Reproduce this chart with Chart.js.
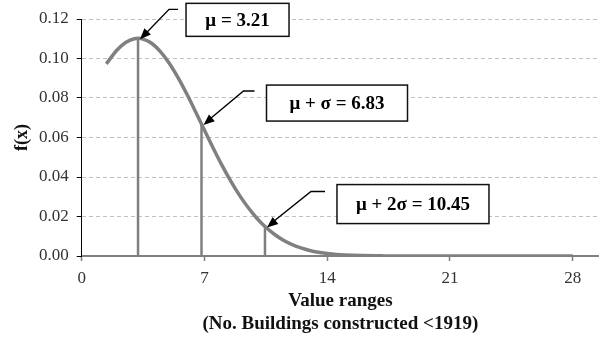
<!DOCTYPE html>
<html>
<head>
<meta charset="utf-8">
<script src="https://cdn.jsdelivr.net/npm/chart.js@4.4.1/dist/chart.umd.min.js"></script>
<style>
    html, body { margin: 0; padding: 0; background: #fff; }
    #wrap { width: 599px; height: 339px; position: relative; }
</style>
</head>
<body>
<div id="wrap"><canvas id="chart"></canvas></div>
<script>
// Density curve
const curveX = [1.4, 2, 2.5, 3, 3.21, 3.5, 4, 4.5, 5, 5.5, 6, 6.5, 6.83, 7, 7.5, 8, 8.5, 9, 9.5, 10, 10.45, 11, 11.5, 12, 12.5, 13, 13.5, 14, 14.5, 15, 16, 17, 18, 20, 22, 24, 26, 28];
const curveY = [0.0973, 0.1042, 0.1081, 0.1100, 0.1102, 0.1098, 0.1076, 0.1034, 0.0975, 0.0902, 0.0819, 0.0729, 0.0668, 0.0637, 0.0546, 0.0459, 0.0379, 0.0307, 0.0244, 0.0190, 0.0149, 0.0109, 0.0080, 0.0058, 0.0041, 0.0028, 0.0019, 0.0013, 0.0008, 0.0005, 0.0002, 0.0001, 0, 0, 0, 0, 0, 0];

// Reference lines (mu, mu + sigma, mu + 2 sigma)
const markX = [3.21, 6.83, 10.45];
const markY = [0.1102, 0.0668, 0.0149];
const markLabels = ['\u03bc = 3.21', '\u03bc + \u03c3 = 6.83', '\u03bc + 2\u03c3 = 10.45'];

const xTicks = [0, 7, 14, 21, 28];
const yTicks = [0, 0.02, 0.04, 0.06, 0.08, 0.10, 0.12];

const serif = "'Liberation Serif', 'Times New Roman', serif";
const gray = '#808080';

// callout geometry, offsets in px from arrow tip
const callouts = [
    { elbow: [29, -30], end: [38, -30], box: [46, -36, 103, 33] },
    { elbow: [40, -34], end: [51, -34], box: [63, -40, 141, 36] },
    { elbow: [44, -36], end: [58, -36], box: [70, -43, 152, 39] }
];

const calloutPlugin = {
    id: 'callouts',
    afterDatasetsDraw(chart) {
        const ctx = chart.ctx;
        const xs = chart.scales.x;
        const ys = chart.scales.y;
        ctx.save();
        markX.forEach((mx, i) => {
            const c = callouts[i];
            const tx = xs.getPixelForValue(mx) + 2;
            const ty = ys.getPixelForValue(markY[i]) + 1;
            const ex = tx + c.elbow[0], ey = ty + c.elbow[1];
            // leader line
            ctx.strokeStyle = '#000';
            ctx.lineWidth = 1.4;
            ctx.beginPath();
            ctx.moveTo(tx + c.end[0], ty + c.end[1]);
            ctx.lineTo(ex, ey);
            ctx.lineTo(tx + 4, ty - 4);
            ctx.stroke();
            // arrow head
            const ang = Math.atan2(ty - ey, tx - ex);
            const len = 11, wid = 4.5;
            ctx.fillStyle = '#000';
            ctx.beginPath();
            ctx.moveTo(tx, ty);
            ctx.lineTo(tx - len * Math.cos(ang) + wid * Math.sin(ang), ty - len * Math.sin(ang) - wid * Math.cos(ang));
            ctx.lineTo(tx - len * Math.cos(ang) - wid * Math.sin(ang), ty - len * Math.sin(ang) + wid * Math.cos(ang));
            ctx.closePath();
            ctx.fill();
            // box
            const bx = tx + c.box[0], by = ty + c.box[1], bw = c.box[2], bh = c.box[3];
            ctx.fillStyle = '#fff';
            ctx.fillRect(bx, by, bw, bh);
            ctx.lineWidth = 1.5;
            ctx.strokeStyle = '#111';
            ctx.strokeRect(bx, by, bw, bh);
            ctx.fillStyle = '#000';
            ctx.font = 'bold 19px ' + serif;
            ctx.textAlign = 'center';
            ctx.textBaseline = 'middle';
            ctx.fillText(markLabels[i], bx + bw / 2, by + bh / 2 + 1);
        });
        ctx.restore();
    }
};

const datasets = [{
    data: curveX.map((x, i) => ({ x: x, y: curveY[i] })),
    borderColor: gray,
    borderWidth: 3.5,
    pointRadius: 0,
    cubicInterpolationMode: 'monotone',
    fill: false,
    order: 1
}];
markX.forEach((mx, i) => {
    datasets.push({
        data: [{ x: mx, y: 0 }, { x: mx, y: markY[i] }],
        borderColor: gray,
        borderWidth: 2.5,
        pointRadius: 0,
        fill: false,
        order: 2
    });
});

new Chart(document.getElementById('chart'), {
    type: 'scatter',
    data: { datasets: datasets },
    options: {
        responsive: true,
        maintainAspectRatio: false,
        animation: false,
        showLine: true,
        layout: { padding: { top: 19, right: 0, left: 13, bottom: 3.5 } },
        plugins: {
            legend: { display: false },
            tooltip: { enabled: false }
        },
        scales: {
            x: {
                type: 'linear',
                min: 0,
                max: 29.5,
                afterBuildTicks: (scale) => { scale.ticks = xTicks.map(v => ({ value: v })); },
                border: { color: gray, width: 2 },
                grid: { drawOnChartArea: false, drawTicks: true, tickLength: 5, tickColor: gray, tickWidth: 1.5 },
                ticks: { color: '#333', font: { family: serif, size: 17 }, padding: 7, maxRotation: 0 },
                title: {
                    display: true,
                    text: ['Value ranges', '(No. Buildings constructed <1919)'],
                    color: '#111',
                    font: { family: serif, size: 19, weight: 'bold', lineHeight: 1.2 },
                    padding: { top: -5.5, bottom: 0 }
                }
            },
            y: {
                min: 0,
                max: 0.12,
                afterBuildTicks: (scale) => { scale.ticks = yTicks.map(v => ({ value: v })); },
                border: { color: '#000', width: 1, dash: [4, 3] },
                grid: { color: '#c0c0c0', lineWidth: 1, tickLength: 5, tickColor: '#000', tickBorderDash: [] },
                ticks: { color: '#333', font: { family: serif, size: 17 }, padding: 8, callback: v => v.toFixed(2) },
                title: {
                    display: true,
                    text: 'f(x)',
                    color: '#111',
                    font: { family: serif, size: 18, weight: 'bold', lineHeight: 1.0 },
                    padding: { top: 0, bottom: 0 }
                }
            }
        }
    },
    plugins: [calloutPlugin]
});
</script>
</body>
</html>
